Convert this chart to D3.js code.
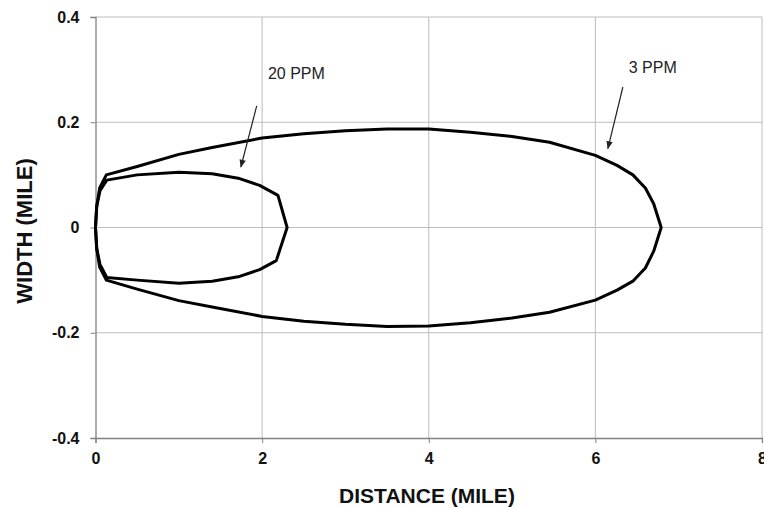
<!DOCTYPE html>
<html>
<head>
<meta charset="utf-8">
<script src="https://cdn.jsdelivr.net/npm/d3@7"></script>
<style>
  html, body { margin: 0; padding: 0; background: #fff; }
  svg { display: block; font-family: "Liberation Sans", Arial, sans-serif; }
</style>
</head>
<body>
<svg id="chart" width="764" height="508"></svg>
<script>
// Plume outlines: distance downwind (mile) vs. half-width (mile)
const ppm3X = [0, 0.015, 0.05, 0.13, 0.5, 1.0, 1.4, 2.0, 2.5, 3.0, 3.5, 4.0, 4.5, 5.0, 5.45, 6.0, 6.26, 6.45, 6.6, 6.7, 6.79,
               6.7, 6.6, 6.45, 6.26, 6.0, 5.45, 5.0, 4.5, 4.0, 3.5, 3.0, 2.5, 2.0, 1.4, 1.0, 0.5, 0.13, 0.05, 0.015, 0];
const ppm3Y = [0, 0.04, 0.075, 0.1, 0.116, 0.139, 0.152, 0.17, 0.178, 0.184, 0.187, 0.187, 0.181, 0.173, 0.162, 0.137, 0.118, 0.1, 0.075, 0.045, 0,
               -0.045, -0.077, -0.102, -0.119, -0.138, -0.161, -0.172, -0.181, -0.187, -0.188, -0.184, -0.178, -0.169, -0.151, -0.139, -0.117, -0.1, -0.075, -0.04, 0];

const ppm20X = [0, 0.014, 0.054, 0.135, 0.5, 1.0, 1.4, 1.73, 1.97, 2.19, 2.3,
                2.17, 1.97, 1.73, 1.4, 1.0, 0.5, 0.135, 0.054, 0.014, 0];
const ppm20Y = [0, 0.04, 0.07, 0.09, 0.1, 0.105, 0.102, 0.093, 0.08, 0.061, 0,
                -0.063, -0.08, -0.093, -0.102, -0.106, -0.1, -0.095, -0.07, -0.04, 0];

const xTicks = [0, 2, 4, 6, 8];
const yTicks = [-0.4, -0.2, 0, 0.2, 0.4];
const yTickLabels = ["-0.4", "-0.2", "0", "0.2", "0.4"];

// Annotations: label text, label baseline (data units), arrow start/end (data units)
const labels = ["20 PPM", "3 PPM"];
const labelPos = [[2.07, 0.283], [6.4, 0.293]];
const arrowFrom = [[1.935, 0.231], [6.33, 0.267]];
const arrowTo = [[1.745, 0.115], [6.15, 0.15]];

const svg = d3.select("#chart");
const x = d3.scaleLinear().domain([0, 8]).range([95.5, 762]);
const y = d3.scaleLinear().domain([-0.4, 0.4]).range([438, 17]);

// Grid lines
const grid = svg.append("g");
grid.selectAll("line.vx").data(xTicks.filter(d => d !== 0)).join("line")
  .attr("x1", d => x(d)).attr("x2", d => x(d))
  .attr("y1", y(0.4)).attr("y2", y(-0.4))
  .attr("stroke", "#bdbdbd").attr("stroke-width", 1);
grid.selectAll("line.hy").data(yTicks.filter(d => d !== -0.4)).join("line")
  .attr("x1", x(0)).attr("x2", x(8))
  .attr("y1", d => y(d)).attr("y2", d => y(d))
  .attr("stroke", "#bdbdbd").attr("stroke-width", 1);

// Axes
const xAxis = d3.axisBottom(x).tickValues(xTicks).tickSize(5).tickPadding(10).tickFormat(d3.format("d"));
const yAxis = d3.axisLeft(y).tickValues(yTicks).tickSize(5).tickPadding(11).tickFormat((d, i) => yTickLabels[i]);

const gx = svg.append("g").attr("transform", `translate(0,${y(-0.4)})`).call(xAxis);
const gy = svg.append("g").attr("transform", `translate(${x(0)},0)`).call(yAxis);
[gx, gy].forEach(g => {
  g.select(".domain").attr("stroke", "#808080").attr("stroke-width", 1.3);
  g.selectAll(".tick line").attr("stroke", "#808080");
  g.selectAll(".tick text").attr("fill", "#111").attr("font-size", 16).attr("font-weight", "bold")
    .attr("font-family", "Liberation Sans, Arial, sans-serif");
});

// Axis titles
svg.append("text").attr("x", 427).attr("y", 503).attr("text-anchor", "middle")
  .attr("font-size", 21).attr("font-weight", "bold").attr("fill", "#111")
  .text("DISTANCE (MILE)");
svg.append("text").attr("transform", `translate(32,231) rotate(-90)`).attr("text-anchor", "middle")
  .attr("font-size", 22).attr("font-weight", "bold").attr("fill", "#111")
  .text("WIDTH (MILE)");

// Plume outlines
const line = d3.line().x(d => x(d[0])).y(d => y(d[1])).curve(d3.curveLinear);
const outlines = [d3.zip(ppm3X, ppm3Y), d3.zip(ppm20X, ppm20Y)];
svg.append("g").selectAll("path").data(outlines).join("path")
  .attr("d", line)
  .attr("fill", "none").attr("stroke", "#000").attr("stroke-width", 3)
  .attr("stroke-linejoin", "round").attr("stroke-linecap", "round");

// Arrow marker
svg.append("defs").append("marker")
  .attr("id", "arrowhead").attr("viewBox", "0 0 10 10")
  .attr("refX", 9).attr("refY", 5).attr("markerWidth", 9).attr("markerHeight", 8)
  .attr("markerUnits", "userSpaceOnUse").attr("orient", "auto")
  .append("path").attr("d", "M0,1 L10,5 L0,9 Z").attr("fill", "#222");

// Annotations
const ann = svg.append("g");
ann.selectAll("line").data(labels).join("line")
  .attr("x1", (d, i) => x(arrowFrom[i][0])).attr("y1", (d, i) => y(arrowFrom[i][1]))
  .attr("x2", (d, i) => x(arrowTo[i][0])).attr("y2", (d, i) => y(arrowTo[i][1]))
  .attr("stroke", "#222").attr("stroke-width", 1.2)
  .attr("marker-end", "url(#arrowhead)");
ann.selectAll("text").data(labels).join("text")
  .attr("x", (d, i) => x(labelPos[i][0])).attr("y", (d, i) => y(labelPos[i][1]))
  .attr("font-size", 16).attr("fill", "#222")
  .text(d => d);
</script>
</body>
</html>
